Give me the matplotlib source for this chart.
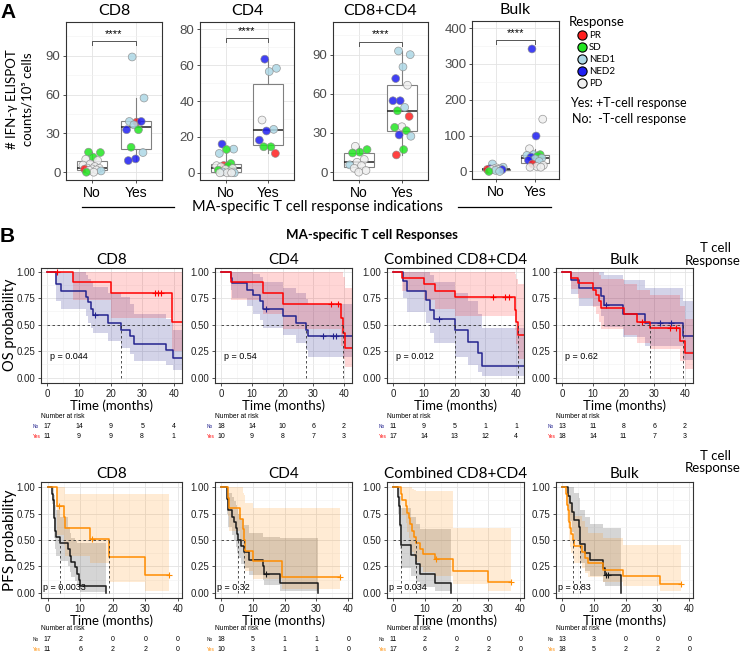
import bisect
import matplotlib
matplotlib.use('Agg')
import matplotlib.pyplot as plt
from matplotlib.ticker import MultipleLocator
from matplotlib.transforms import blended_transform_factory

W, H = 743, 656
LATO = ['Lato', 'DejaVu Sans']
plt.rcParams['font.family'] = ['Liberation Sans', 'DejaVu Sans']

# ---------------- panel A: IFN-g ELISPOT counts ----------------
resp_names = ['PR', 'SD', 'NED1', 'NED2', 'PD']
resp_colors = ['#FF1F1F', '#22E622', '#ADD8E6', '#1F1FF2', '#EFEFEF']

cd8_no = [15.5, 15.2, 11.6, 10.0, 9.0, 6.4, 5.5, 4.4, 3.2, 3.0, 2.6, 2.4, 1.8, 1.5, 1.0, 0.0, 0.0]
cd8_no_resp = ['SD', 'SD', 'SD', 'PD', 'PD', 'PD', 'PD', 'PD', 'PD', 'PD', 'PD', 'PR', 'PD', 'PD', 'NED1', 'PD', 'SD']
cd8_yes = [89, 57.3, 38.7, 39.2, 39.2, 36.6, 32.8, 32.8, 19.3, 15.2, 10.3, 9.0]
cd8_yes_resp = ['NED1', 'NED1', 'PR', 'NED1', 'NED2', 'NED1', 'NED2', 'SD', 'SD', 'NED1', 'NED2', 'NED2']

cd4_no = [16, 13.2, 13, 10.8, 5.2, 4.1, 4.0, 3.9, 3.3, 2.4, 1.9, 1.5, 0.5, 0.5, 0, 0, 0, 0]
cd4_no_resp = ['NED2', 'NED1', 'SD', 'NED1', 'SD', 'PR', 'PD', 'SD', 'PD', 'PD', 'PD', 'SD', 'PD', 'NED1', 'NED1', 'PD', 'PD', 'PD']
cd4_yes = [63.3, 58.2, 56.4, 29.4, 24.2, 23.3, 18.2, 14.5, 14.5, 10.8]
cd4_yes_resp = ['NED2', 'NED1', 'NED1', 'PD', 'NED1', 'NED2', 'NED2', 'SD', 'SD', 'PR']

comb_no = [19.8, 17.3, 15.3, 14.7, 9.7, 7.6, 5.6, 5.0, 3.0, 1.3, 0.0]
comb_no_resp = ['PD', 'SD', 'SD', 'SD', 'PD', 'PD', 'NED1', 'PD', 'PD', 'PD', 'PD']
comb_yes = [92.8, 90, 80.6, 71.7, 66.6, 54.7, 54.7, 49.6, 47, 42.7, 34.8, 34.3, 31.8, 28.5, 27.5, 17.3, 13.2]
comb_yes_resp = ['NED1', 'NED1', 'NED1', 'NED2', 'PD', 'NED2', 'NED2', 'NED1', 'SD', 'PR', 'PD', 'SD', 'SD', 'NED2', 'NED1', 'SD', 'PR']

bulk_no = [21, 12, 10, 7.5, 7.5, 7.5, 5.6, 5.6, 5, 5, 3, 0, 0]
bulk_no_resp = ['NED1', 'NED1', 'PD', 'NED2', 'NED1', 'PD', 'PR', 'PD', 'PD', 'NED2', 'NED1', 'SD', 'NED1']
bulk_yes = [342, 146, 99, 63.5, 47, 47, 45, 43, 40, 37, 35, 31, 28, 21, 17, 14, 12, 12]
bulk_yes_resp = ['NED2', 'PD', 'NED2', 'PD', 'SD', 'NED1', 'NED1', 'SD', 'NED2', 'NED1', 'NED1', 'NED2', 'NED1', 'PR', 'PD', 'PD', 'PD', 'PD']

# ---------------- panel B: Kaplan-Meier curves ----------------
# OS, CD8
os_cd8_no_t = [0, 2.8, 4.2, 12.3, 13.0, 13.8, 14.3, 19.3, 23.4, 26.3, 27.4, 37.5, 39.8]
os_cd8_no_s = [1, .88, .82, .76, .71, .65, .59, .52, .45, .39, .32, .26, .19]
os_cd8_no_lo = [1, .72, .65, .58, .52, .47, .42, .35, .28, .22, .16, .12, .07]
os_cd8_no_hi = [1, 1, 1, .97, .93, .90, .86, .80, .76, .70, .60, .55, .45]
os_cd8_no_cens = [15.0]
os_cd8_yes_t = [0, 8.2, 20.0, 39.5]
os_cd8_yes_s = [1, .90, .80, .53]
os_cd8_yes_lo = [1, .73, .56, .25]
os_cd8_yes_hi = [1, 1, 1, 1]
os_cd8_yes_cens = [3.0, 34.2, 35.0, 36.0]

# OS, CD4
os_cd4_no_t = [0, 3.1, 3.5, 8.3, 10.5, 12.5, 13.5, 20.0, 24.5, 27.5, 28.2]
os_cd4_no_s = [1, .94, .89, .83, .78, .72, .65, .58, .52, .45, .39]
os_cd4_no_lo = [1, .83, .75, .68, .60, .54, .47, .40, .33, .26, .20]
os_cd4_no_hi = [1, 1, 1, 1, .98, .95, .90, .85, .80, .74, .70]
os_cd4_no_cens = [14.5, 33.0, 36.4, 37.4]
os_cd4_yes_t = [0, 3.1, 13.5, 20.2, 39.0, 39.6, 40.2]
os_cd4_yes_s = [1, .90, .80, .70, .56, .42, .28]
os_cd4_yes_lo = [1, .73, .60, .46, .30, .18, .10]
os_cd4_yes_hi = [1, 1, 1, 1, 1, .95, .85]
os_cd4_yes_cens = [35.8, 37.9]

# OS, combined CD8+CD4
os_comb_no_t = [0, 3.1, 4.5, 10.8, 12.0, 13.4, 20.2, 24.3, 27.7, 28.8]
os_comb_no_s = [1, .91, .82, .73, .64, .55, .45, .34, .23, .11]
os_comb_no_lo = [1, .75, .62, .52, .42, .33, .20, .12, .05, .02]
os_comb_no_hi = [1, 1, 1, 1, .97, .90, .80, .72, .60, .47]
os_comb_no_cens = [14.9]
os_comb_yes_t = [0, 3.0, 10.2, 13.5, 20.0, 39.6, 40.0, 40.6]
os_comb_yes_s = [1, .94, .88, .82, .76, .64, .53, .40]
os_comb_yes_lo = [1, .82, .73, .65, .58, .45, .32, .18]
os_comb_yes_hi = [1, 1, 1, 1, 1, .98, .93, .88]
os_comb_yes_cens = [32.5, 36.3, 37.7]

# OS, bulk
os_bulk_no_t = [0, 3.0, 5.5, 12.7, 13.5, 19.9, 27.1, 39.5]
os_bulk_no_s = [1, .92, .85, .77, .69, .60, .52, .39]
os_bulk_no_lo = [1, .79, .68, .58, .48, .38, .30, .17]
os_bulk_no_hi = [1, 1, 1, 1, .97, .92, .85, .72]
os_bulk_no_cens = [14.2, 31.8, 35.6]
os_bulk_yes_t = [0, 2.9, 5.0, 10.0, 11.0, 12.0, 12.5, 20.0, 24.5, 28.5, 38.5, 40.0]
os_bulk_yes_s = [1, .94, .89, .83, .78, .72, .66, .60, .53, .47, .35, .23]
os_bulk_yes_lo = [1, .84, .75, .67, .60, .53, .46, .40, .33, .27, .16, .08]
os_bulk_yes_hi = [1, 1, 1, 1, 1, .97, .93, .88, .83, .78, .68, .55]
os_bulk_yes_cens = [26.0, 35.0, 37.0]

# PFS, CD8
pfs_cd8_no_t = [0, 1.5, 1.7, 1.9, 2.0, 2.1, 2.2, 2.3, 2.5, 3.8, 6.3, 6.8, 7.3, 8.4, 8.9, 9.5, 10.0, 18.0]
pfs_cd8_no_s = [1, .94, .88, .82, .76, .71, .65, .59, .53, .47, .41, .35, .29, .24, .18, .12, .06, 0]
pfs_cd8_no_lo = [1, .84, .74, .66, .59, .52, .46, .41, .35, .30, .25, .20, .15, .11, .07, .03, .01, 0]
pfs_cd8_no_hi = [1, 1, 1, 1, .97, .93, .88, .83, .78, .72, .62, .57, .52, .49, .47, .47, .47, .47]
pfs_cd8_no_cens = []
pfs_cd8_yes_t = [0, 2.9, 3.0, 5.0, 5.3, 13.0, 18.8, 30.0]
pfs_cd8_yes_s = [1, .91, .82, .72, .61, .51, .34, .17]
pfs_cd8_yes_lo = [1, .70, .55, .45, .35, .28, .10, .02]
pfs_cd8_yes_hi = [1, 1, 1, 1, .94, .94, .94, .94]
pfs_cd8_yes_cens = [3.6, 13.5, 37.2]

# PFS, CD4
pfs_cd4_no_t = [0, 1.8, 1.9, 2.0, 2.2, 3.4, 4.0, 4.5, 4.8, 5.1, 6.2, 7.2, 8.8, 13.0, 13.5, 18.5, 30.5]
pfs_cd4_no_s = [1, .94, .89, .83, .78, .72, .67, .61, .56, .50, .44, .39, .31, .25, .18, .09, 0]
pfs_cd4_no_lo = [1, .84, .75, .68, .62, .55, .49, .43, .38, .33, .27, .23, .17, .12, .07, .02, 0]
pfs_cd4_no_hi = [1, 1, 1, .98, .95, .91, .87, .83, .79, .75, .70, .64, .57, .53, .53, .52, .52]
pfs_cd4_no_cens = [14.0]
pfs_cd4_yes_t = [0, 2.1, 2.4, 6.0, 6.7, 7.2, 7.4, 10.1, 19.2]
pfs_cd4_yes_s = [1, .90, .80, .70, .60, .50, .40, .30, .15]
pfs_cd4_yes_lo = [1, .73, .59, .48, .38, .29, .21, .13, .04]
pfs_cd4_yes_hi = [1, 1, 1, 1, .95, .93, .85, .80, .80]
pfs_cd4_yes_cens = [37.4]

# PFS, combined CD8+CD4
pfs_comb_no_t = [0, 1.5, 1.8, 2.1, 2.3, 5.6, 7.1, 8.4, 13.0, 18.3]
pfs_comb_no_s = [1, .91, .82, .64, .45, .36, .27, .18, .09, 0]
pfs_comb_no_lo = [1, .75, .62, .41, .23, .16, .10, .05, .02, 0]
pfs_comb_no_hi = [1, 1, 1, .92, .80, .72, .65, .60, .60, .60]
pfs_comb_no_cens = []
pfs_comb_yes_t = [0, 2.3, 2.8, 3.9, 4.4, 4.9, 5.4, 5.9, 6.6, 7.2, 8.4, 9.3, 13.0, 18.9, 30.0]
pfs_comb_yes_s = [1, .94, .88, .82, .76, .71, .65, .59, .53, .47, .41, .37, .32, .21, .10]
pfs_comb_yes_lo = [1, .83, .74, .66, .58, .52, .45, .39, .34, .29, .24, .20, .16, .08, .02]
pfs_comb_yes_hi = [1, 1, 1, 1, 1, 1, 1, .98, .97, .96, .96, .96, .96, .61, .61]
pfs_comb_yes_cens = [13.5, 37.2]

# PFS, bulk
pfs_bulk_no_t = [0, 1.9, 2.3, 2.9, 3.6, 5.2, 5.5, 5.7, 7.2, 8.8, 12.9, 13.4, 18.4]
pfs_bulk_no_s = [1, .92, .85, .77, .69, .62, .54, .46, .38, .31, .23, .17, 0]
pfs_bulk_no_lo = [1, .79, .68, .58, .50, .42, .35, .28, .21, .16, .10, .06, 0]
pfs_bulk_no_hi = [1, 1, 1, 1, .95, .90, .85, .78, .72, .65, .61, .61, .61]
pfs_bulk_no_cens = [13.9, 14.5]
pfs_bulk_yes_t = [0, 1.2, 1.4, 1.6, 1.8, 2.0, 2.2, 2.4, 2.7, 3.5, 3.7, 6.2, 7.2, 8.2, 12.9, 19.1, 30.7]
pfs_bulk_yes_s = [1, .94, .89, .83, .78, .72, .67, .61, .56, .50, .44, .39, .33, .28, .22, .16, .08]
pfs_bulk_yes_lo = [1, .84, .75, .68, .61, .55, .49, .43, .38, .33, .28, .23, .19, .15, .10, .06, .02]
pfs_bulk_yes_hi = [1, 1, 1, 1, .98, .95, .91, .87, .82, .78, .73, .68, .62, .57, .52, .45, .45]
pfs_bulk_yes_cens = [37.5]

# numbers at risk
risk_times = [0, 10, 20, 30, 40]
os_risk_no = [[17, 14, 9, 5, 4], [18, 14, 10, 6, 2], [11, 9, 5, 1, 1], [13, 11, 8, 6, 2]]
os_risk_yes = [[11, 9, 9, 8, 1], [10, 9, 8, 7, 3], [17, 14, 13, 12, 4], [18, 14, 11, 7, 3]]
pfs_risk_no = [[17, 2, 0, 0, 0], [18, 5, 1, 1, 0], [11, 2, 0, 0, 0], [13, 3, 0, 0, 0]]
pfs_risk_yes = [[11, 6, 2, 2, 0], [10, 3, 1, 1, 0], [17, 6, 2, 2, 0], [18, 5, 2, 2, 0]]
os_pvals = ['p = 0.044', 'p = 0.54', 'p = 0.012', 'p = 0.62']
pfs_pvals = ['p = 0.0033', 'p = 0.32', 'p = 0.034', 'p = 0.83']
km_titles = ['CD8', 'CD4', 'Combined CD8+CD4', 'Bulk']

OS_NO, OS_YES = '#23238E', '#FF0000'
PFS_NO, PFS_YES = '#1A1A1A', '#FF8C00'


def rect(l, t, r, b):
    return [l / W, 1 - b / H, (r - l) / W, (b - t) / H]


def style(ax, size=7):
    for sp in ax.spines.values():
        sp.set_color('#333333')
        sp.set_linewidth(0.8)
    ax.grid(True, which='major', color='#E3E3E3', lw=0.6)
    ax.grid(True, which='minor', color='#F2F2F2', lw=0.4)
    ax.set_axisbelow(True)
    ax.tick_params(length=2.5, width=0.6, color='#333333', labelsize=size, pad=1.5,
                   labelcolor='#4D4D4D')
    ax.tick_params(which='minor', length=0)


def jitter(n, width=0.22):
    return [((i * 0.6180339887 + 0.31) % 1 - 0.5) * 2 * width for i in range(n)]


def box_panel(ax, no, no_resp, yes, yes_resp, title, ylim, step, bracket):
    ax.boxplot([no, yes], positions=[1, 2], widths=0.7, showfliers=False,
               patch_artist=True, zorder=2,
               boxprops=dict(facecolor='white', edgecolor='#808080', lw=0.8),
               medianprops=dict(color='#222222', lw=1.1),
               whiskerprops=dict(color='#808080', lw=0.8),
               capprops=dict(lw=0))
    for pos, vals, resp in [(1, no, no_resp), (2, yes, yes_resp)]:
        xs = [pos + j for j in jitter(len(vals))]
        cs = [resp_colors[resp_names.index(r)] for r in resp]
        ax.scatter(xs, vals, s=32, c=cs, edgecolors='#8A8A8A', linewidths=0.5,
                   alpha=0.85, zorder=3)
    d = (ylim[1] - ylim[0]) * 0.025
    ax.plot([1, 1, 2, 2], [bracket - d, bracket, bracket, bracket - d], color='#555555', lw=0.7)
    ax.text(1.5, bracket + d * 0.6, '****', ha='center', va='bottom', fontsize=8)
    ax.set_xlim(0.4, 2.6)
    ax.set_ylim(*ylim)
    ax.yaxis.set_major_locator(MultipleLocator(step))
    ax.yaxis.set_minor_locator(MultipleLocator(step / 2))
    ax.set_xticks([1, 2])
    ax.set_xticklabels(['No', 'Yes'])
    style(ax, 9.5)
    ax.tick_params(axis='x', labelcolor='black', labelsize=10)
    ax.set_title(title, fontsize=11.5, family=LATO, pad=5)


def draw_km(ax, t, s, lo, hi, cens, color, alpha, t_end):
    tt = t + [t_end]
    ax.fill_between(tt, lo + [lo[-1]], hi + [hi[-1]], step='post', color=color,
                    alpha=alpha, lw=0)
    ax.step(tt, s + [s[-1]], where='post', color=color, lw=1.1)
    if cens:
        cs = [s[bisect.bisect_right(t, c) - 1] for c in cens]
        ax.plot(cens, cs, ls='none', marker='+', color=color, ms=4, mew=0.8)


def median_lines(ax, curves):
    meds, ends = [], []
    for t, s in curves:
        m = next((ti for ti, si in zip(t, s) if si <= 0.5), None)
        meds.append(m)
        ends.append(m if m is not None else t[-1])
    kw = dict(color='#333333', lw=0.6, ls=(0, (3, 3)))
    ax.plot([0, max(ends)], [0.5, 0.5], **kw)
    for m in meds:
        if m is not None:
            ax.plot([m, m], [0, 0.5], **kw)


def risk_table(fig, ax, l, y0, no, yes, c_no, c_yes):
    tr = blended_transform_factory(ax.transData, fig.transFigure)
    fig.text(l / W, 1 - y0 / H, 'Number at risk', fontsize=4.8, va='center')
    for vals, yy, col, lab in [(no, y0 + 10.5, c_no, 'No'), (yes, y0 + 20.5, c_yes, 'Yes')]:
        fig.text((l - 8) / W, 1 - yy / H, lab, fontsize=3.4, color=col, va='center', ha='left')
        for tm, v in zip(risk_times, vals):
            fig.text(tm, 1 - yy / H, str(v), fontsize=5, ha='center', va='center',
                     transform=tr)


fig = plt.figure(figsize=(W / 100, H / 100), dpi=100)

# ---- panel A ----
a_cols = [(66, 162), (200, 294), (333, 428), (472, 559)]
box_panel(fig.add_axes(rect(a_cols[0][0], 22, a_cols[0][1], 180)), cd8_no, cd8_no_resp,
          cd8_yes, cd8_yes_resp, 'CD8', (-6, 116), 30, 101)
box_panel(fig.add_axes(rect(a_cols[1][0], 22, a_cols[1][1], 180)), cd4_no, cd4_no_resp,
          cd4_yes, cd4_yes_resp, 'CD4', (-4, 84), 20, 75)
box_panel(fig.add_axes(rect(a_cols[2][0], 22, a_cols[2][1], 180)), comb_no, comb_no_resp,
          comb_yes, comb_yes_resp, 'CD8+CD4', (-6, 115), 30, 100)
box_panel(fig.add_axes(rect(a_cols[3][0], 21, a_cols[3][1], 179)), bulk_no, bulk_no_resp,
          bulk_yes, bulk_yes_resp, 'Bulk', (-21, 420), 100, 367)

# ---- panel B ----
b_cols = [(41, 182), (215, 352), (387, 524), (556, 693)]
os_curves = [
    ((os_cd8_no_t, os_cd8_no_s, os_cd8_no_lo, os_cd8_no_hi, os_cd8_no_cens),
     (os_cd8_yes_t, os_cd8_yes_s, os_cd8_yes_lo, os_cd8_yes_hi, os_cd8_yes_cens)),
    ((os_cd4_no_t, os_cd4_no_s, os_cd4_no_lo, os_cd4_no_hi, os_cd4_no_cens),
     (os_cd4_yes_t, os_cd4_yes_s, os_cd4_yes_lo, os_cd4_yes_hi, os_cd4_yes_cens)),
    ((os_comb_no_t, os_comb_no_s, os_comb_no_lo, os_comb_no_hi, os_comb_no_cens),
     (os_comb_yes_t, os_comb_yes_s, os_comb_yes_lo, os_comb_yes_hi, os_comb_yes_cens)),
    ((os_bulk_no_t, os_bulk_no_s, os_bulk_no_lo, os_bulk_no_hi, os_bulk_no_cens),
     (os_bulk_yes_t, os_bulk_yes_s, os_bulk_yes_lo, os_bulk_yes_hi, os_bulk_yes_cens)),
]
pfs_curves = [
    ((pfs_cd8_no_t, pfs_cd8_no_s, pfs_cd8_no_lo, pfs_cd8_no_hi, pfs_cd8_no_cens),
     (pfs_cd8_yes_t, pfs_cd8_yes_s, pfs_cd8_yes_lo, pfs_cd8_yes_hi, pfs_cd8_yes_cens)),
    ((pfs_cd4_no_t, pfs_cd4_no_s, pfs_cd4_no_lo, pfs_cd4_no_hi, pfs_cd4_no_cens),
     (pfs_cd4_yes_t, pfs_cd4_yes_s, pfs_cd4_yes_lo, pfs_cd4_yes_hi, pfs_cd4_yes_cens)),
    ((pfs_comb_no_t, pfs_comb_no_s, pfs_comb_no_lo, pfs_comb_no_hi, pfs_comb_no_cens),
     (pfs_comb_yes_t, pfs_comb_yes_s, pfs_comb_yes_lo, pfs_comb_yes_hi, pfs_comb_yes_cens)),
    ((pfs_bulk_no_t, pfs_bulk_no_s, pfs_bulk_no_lo, pfs_bulk_no_hi, pfs_bulk_no_cens),
     (pfs_bulk_yes_t, pfs_bulk_yes_s, pfs_bulk_yes_lo, pfs_bulk_yes_hi, pfs_bulk_yes_cens)),
]

for i, (l, r) in enumerate(b_cols):
    # overall survival
    ax = fig.add_axes(rect(l, 268, r, 383))
    no, yes = os_curves[i]
    draw_km(ax, *no, OS_NO, 0.2, 43)
    draw_km(ax, *yes, OS_YES, 0.16, 43)
    median_lines(ax, [(no[0], no[1]), (yes[0], yes[1])])
    ax.text(0.8, 0.2, os_pvals[i], fontsize=6.5, va='center')
    ax.set_xlim(-2, 42.6)
    ax.set_ylim(-0.05, 1.035)
    ax.set_xticks(risk_times)
    ax.set_yticks([0, 0.25, 0.5, 0.75, 1.0])
    ax.set_yticklabels(['0.00', '0.25', '0.50', '0.75', '1.00'])
    ax.xaxis.set_minor_locator(MultipleLocator(5))
    ax.yaxis.set_minor_locator(MultipleLocator(0.125))
    style(ax, 7)
    ax.tick_params(labelcolor='#222222')
    ax.set_title(km_titles[i], fontsize=11, family=LATO, pad=3)
    ax.set_xlabel('Time (months)', fontsize=9.5, family=LATO, labelpad=0.5)
    risk_table(fig, ax, l, 416, os_risk_no[i], os_risk_yes[i], OS_NO, OS_YES)

    # progression-free survival
    ax = fig.add_axes(rect(l, 482, r, 598))
    no, yes = pfs_curves[i]
    for c, col, al in [(no, PFS_NO, 0.18), (yes, PFS_YES, 0.17)]:
        end = max([c[0][-1]] + c[4])
        draw_km(ax, *c, col, al, end)
    median_lines(ax, [(no[0], no[1]), (yes[0], yes[1])])
    ax.text(-1.5, 0.05, pfs_pvals[i], fontsize=6.5, va='center')
    ax.set_xlim(-2, 41.2)
    ax.set_ylim(-0.05, 1.05)
    ax.set_xticks(risk_times)
    ax.set_yticks([0, 0.25, 0.5, 0.75, 1.0])
    ax.set_yticklabels(['0.00', '0.25', '0.50', '0.75', '1.00'])
    ax.xaxis.set_minor_locator(MultipleLocator(5))
    ax.yaxis.set_minor_locator(MultipleLocator(0.125))
    style(ax, 7)
    ax.tick_params(labelcolor='#222222')
    ax.set_title(km_titles[i], fontsize=11, family=LATO, pad=3)
    ax.set_xlabel('Time (months)', fontsize=9.5, family=LATO, labelpad=0.5)
    risk_table(fig, ax, l, 629, pfs_risk_no[i], pfs_risk_yes[i], PFS_NO, PFS_YES)

# ---- overlay for labels, legend and decorations (pixel coordinates) ----
ov = fig.add_axes([0, 0, 1, 1])
ov.set_xlim(0, W)
ov.set_ylim(H, 0)
ov.axis('off')
ov.patch.set_visible(False)

ov.text(0, 12, 'A', fontsize=15, fontweight='bold', va='center')
ov.text(0, 237, 'B', fontsize=15, fontweight='bold', va='center')
ov.text(20, 99, '# IFN-\u03b3 ELISPOT\ncounts/10\u2075 cells', rotation=90, ha='center',
        va='center', fontsize=9.5, family=LATO, multialignment='center', linespacing=1.3)

ov.text(318, 207, 'MA-specific T cell response indications', ha='center', va='center',
        fontsize=10.5, family=LATO)
ov.plot([82, 174], [207, 207], color='black', lw=0.9)
ov.plot([458, 551], [207, 207], color='black', lw=0.9)

ov.text(372, 235, 'MA-specific T cell Responses', ha='center', va='center', fontsize=9.5,
        fontweight='bold', family=LATO)
for y1, y2 in [(248, 261), (456, 468)]:
    ov.text(716, y1, 'T cell', ha='center', va='center', fontsize=9.5, family=LATO)
    ov.text(741, y2, 'Response', ha='right', va='center', fontsize=9.5, family=LATO)
ov.text(10, 325, 'OS probability', rotation=90, ha='center', va='center', fontsize=10.5,
        family=LATO)
ov.text(10, 540, 'PFS probability', rotation=90, ha='center', va='center', fontsize=11,
        family=LATO)

# legend for the response categories
ov.text(569, 22, 'Response', va='center', fontsize=9.5, family=LATO)
for k, (name, col) in enumerate(zip(resp_names, resp_colors)):
    y = 35 + k * 12
    ov.scatter([582], [y], s=44, c=col, edgecolors='black', linewidths=0.8)
    ov.text(589, y, name, va='center', fontsize=7, family=LATO)
ov.text(570, 103, 'Yes: +T-cell response', va='center', fontsize=9, family=LATO)
ov.text(572, 119, 'No:  -T-cell response', va='center', fontsize=9, family=LATO)

fig.savefig('out.png', dpi=100)
